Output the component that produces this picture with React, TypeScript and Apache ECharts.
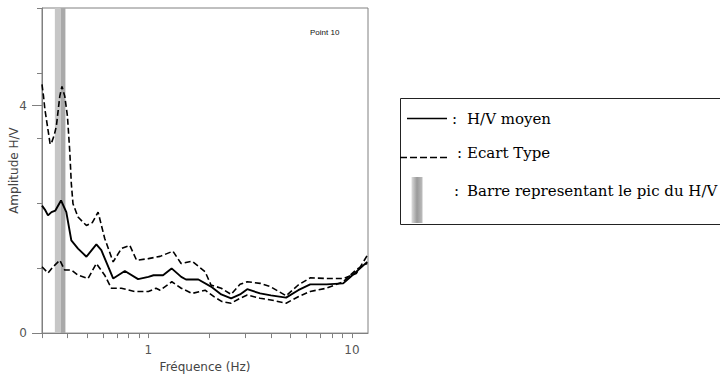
import React, { useEffect, useRef } from "react";
import * as echarts from "echarts";

// ---- data ----
const meanFreq = [0.3, 0.31, 0.321, 0.334, 0.349, 0.372, 0.395, 0.418, 0.451, 0.496, 0.555, 0.587, 0.671, 0.766, 0.89, 1.0, 1.06, 1.18, 1.3, 1.45, 1.53, 1.76, 2.03, 2.28, 2.55, 2.82, 3.06, 3.54, 4.0, 4.75, 5.45, 6.24, 7.5, 9.06, 9.8, 11.9];
const meanAmp = [3.92, 3.8, 3.62, 3.72, 3.77, 4.08, 3.72, 2.85, 2.6, 2.35, 2.73, 2.55, 1.68, 1.91, 1.66, 1.73, 1.78, 1.78, 1.99, 1.73, 1.65, 1.65, 1.43, 1.19, 1.07, 1.19, 1.35, 1.22, 1.16, 1.09, 1.32, 1.5, 1.5, 1.53, 1.72, 2.19];

const upperFreq = [0.3, 0.305, 0.31, 0.319, 0.329, 0.334, 0.345, 0.353, 0.367, 0.376, 0.388, 0.4, 0.411, 0.418, 0.426, 0.451, 0.496, 0.53, 0.566, 0.61, 0.671, 0.737, 0.81, 0.875, 1.0, 1.142, 1.32, 1.448, 1.64, 1.9, 2.03, 2.28, 2.55, 2.82, 3.06, 3.54, 3.97, 4.75, 5.45, 6.24, 7.5, 9.06, 10.5, 11.9];
const upperAmp = [7.65, 7.3, 6.88, 6.37, 5.81, 5.85, 6.1, 6.37, 7.29, 7.59, 7.29, 6.68, 5.56, 4.6, 3.98, 3.57, 3.31, 3.4, 3.72, 2.91, 2.19, 2.6, 2.7, 2.24, 2.29, 2.36, 2.52, 2.14, 2.21, 1.89, 1.48, 1.38, 1.19, 1.5, 1.58, 1.53, 1.43, 1.15, 1.48, 1.7, 1.68, 1.68, 1.83, 2.39];

const lowerFreq = [0.3, 0.321, 0.34, 0.367, 0.388, 0.418, 0.451, 0.505, 0.555, 0.61, 0.658, 0.737, 0.857, 1.0, 1.09, 1.142, 1.303, 1.45, 1.64, 1.9, 2.1, 2.3, 2.55, 2.82, 3.06, 3.54, 4.0, 4.75, 5.45, 6.24, 7.5, 9.06, 10.5, 11.9];
const lowerAmp = [2.04, 1.85, 2.04, 2.24, 1.94, 1.94, 1.78, 1.68, 2.14, 1.78, 1.38, 1.38, 1.28, 1.28, 1.38, 1.32, 1.58, 1.38, 1.22, 1.32, 1.12, 0.97, 0.92, 1.07, 1.17, 1.07, 1.02, 0.92, 1.12, 1.28, 1.38, 1.58, 1.95, 2.15];

const peakBandLight = [0.347, 0.371];
const peakBandDark = [0.371, 0.391];

const xTickValues = [0.3, 0.4, 0.5, 0.6, 0.7, 0.8, 0.9, 1, 2, 3, 4, 5, 6, 7, 8, 9, 10];
const xLabelValues = [1, 10];
const yMinorTicks = [2, 4, 6, 8, 10];
const yLabelValues = [0, 7];
const yLabelTexts = ["0", "4"];

const xMin = 0.3;
const xMax = 12;
const yMin = 0;
const yMax = 10;

const legendTexts = ["H/V moyen", "Ecart Type", "Barre representant le pic du H/V"];
const pointLabel = "Point 10";

const zip = (f: number[], a: number[]) => f.map((v, i) => [v, a[i]]);

export default function App() {
  const ref = useRef<HTMLDivElement>(null);
  useEffect(() => {
    if (!ref.current) return;
    const chart = echarts.init(ref.current, null, { renderer: "svg" });
    const axisColor = "#808080";
    const sans = "DejaVu Sans";
    const serif = "DejaVu Serif";
    const legendSize = 15;
    const dashed = { color: "#000", width: 1.6, type: [6, 3] as any };
    const txt = (x: number, y: number, text: string) => ({
      type: "text",
      x,
      y,
      style: { text, fontFamily: serif, fontSize: legendSize, fill: "#000", verticalAlign: "middle" },
    });
    chart.setOption({
      animation: false,
      backgroundColor: "#fff",
      grid: {
        left: 42,
        right: 352,
        top: 8,
        bottom: 43,
        show: true,
        borderColor: axisColor,
        borderWidth: 1,
        backgroundColor: "transparent",
      },
      title: {
        text: pointLabel,
        left: 305,
        top: 23,
        textStyle: { fontFamily: "Liberation Sans", fontSize: 8, fontWeight: "normal", color: "#111" },
      },
      xAxis: {
        type: "log",
        logBase: 10,
        min: xMin,
        max: xMax,
        name: "Fréquence (Hz)",
        nameLocation: "middle",
        nameGap: 23,
        nameTextStyle: { fontFamily: sans, fontSize: 12, color: "#444" },
        axisLine: { lineStyle: { color: axisColor } },
        axisTick: { show: true, length: 5, customValues: xTickValues, lineStyle: { color: axisColor } },
        axisLabel: { customValues: xLabelValues, margin: 11, fontFamily: sans, fontSize: 12, color: "#555" },
        splitLine: { show: false },
        minorTick: { show: false },
      },
      yAxis: [
        {
          type: "value",
          min: yMin,
          max: yMax,
          name: "Amplitude H/V",
          nameLocation: "middle",
          nameGap: 22,
          nameTextStyle: { fontFamily: sans, fontSize: 12, color: "#444" },
          axisLine: { show: true, lineStyle: { color: axisColor } },
          axisTick: { show: true, length: 5, customValues: yMinorTicks, lineStyle: { color: axisColor } },
          axisLabel: { show: false },
          splitLine: { show: false },
        },
        {
          type: "value",
          min: yMin,
          max: yMax,
          position: "left",
          axisLine: { show: false },
          axisTick: { show: true, length: 10, customValues: yLabelValues, lineStyle: { color: axisColor } },
          axisLabel: {
            customValues: yLabelValues,
            margin: 15,
            fontFamily: sans,
            fontSize: 12,
            color: "#555",
            formatter: (v: number) => yLabelTexts[yLabelValues.indexOf(v)] ?? "",
          },
          splitLine: { show: false },
        },
      ],
      series: [
        {
          type: "line",
          name: "band",
          data: [],
          markArea: {
            silent: true,
            data: [
              [{ xAxis: peakBandLight[0], itemStyle: { color: "#c6c6c6" } }, { xAxis: peakBandLight[1] }],
              [{ xAxis: peakBandDark[0], itemStyle: { color: "#a9a9a9" } }, { xAxis: peakBandDark[1] }],
            ],
          },
        },
        {
          type: "line",
          name: "upper",
          data: zip(upperFreq, upperAmp),
          symbol: "none",
          lineStyle: dashed,
        },
        {
          type: "line",
          name: "lower",
          data: zip(lowerFreq, lowerAmp),
          symbol: "none",
          lineStyle: dashed,
        },
        {
          type: "line",
          name: "mean",
          data: zip(meanFreq, meanAmp),
          symbol: "none",
          lineStyle: { color: "#000", width: 1.9 },
        },
      ],
      graphic: [
        {
          type: "rect",
          shape: { x: 400.5, y: 98.5, width: 340, height: 126 },
          style: { fill: "#fff", stroke: "#222", lineWidth: 1 },
        },
        {
          type: "line",
          shape: { x1: 407, y1: 118.5, x2: 447, y2: 118.5 },
          style: { stroke: "#000", lineWidth: 1.3 },
        },
        {
          type: "line",
          shape: { x1: 400, y1: 157.5, x2: 450, y2: 157.5 },
          style: { stroke: "#000", lineWidth: 1.3, lineDash: [7, 3] },
        },
        {
          type: "rect",
          shape: { x: 411.5, y: 177, width: 11, height: 46 },
          style: {
            fill: new echarts.graphic.LinearGradient(0, 0, 1, 0, [
              { offset: 0, color: "#dddddd" },
              { offset: 0.5, color: "#9a9a9a" },
              { offset: 1, color: "#bdbdbd" },
            ]),
          },
        },
        txt(452, 119, ":"),
        txt(467, 119, legendTexts[0]),
        txt(457, 153, ":"),
        txt(467, 153, legendTexts[1]),
        txt(454, 191, ":"),
        txt(467, 191, legendTexts[2]),
      ],
    });
    return () => chart.dispose();
  }, []);
  return <div ref={ref} style={{ position: "fixed", left: 0, top: 0, width: 720, height: 378 }} />;
}
